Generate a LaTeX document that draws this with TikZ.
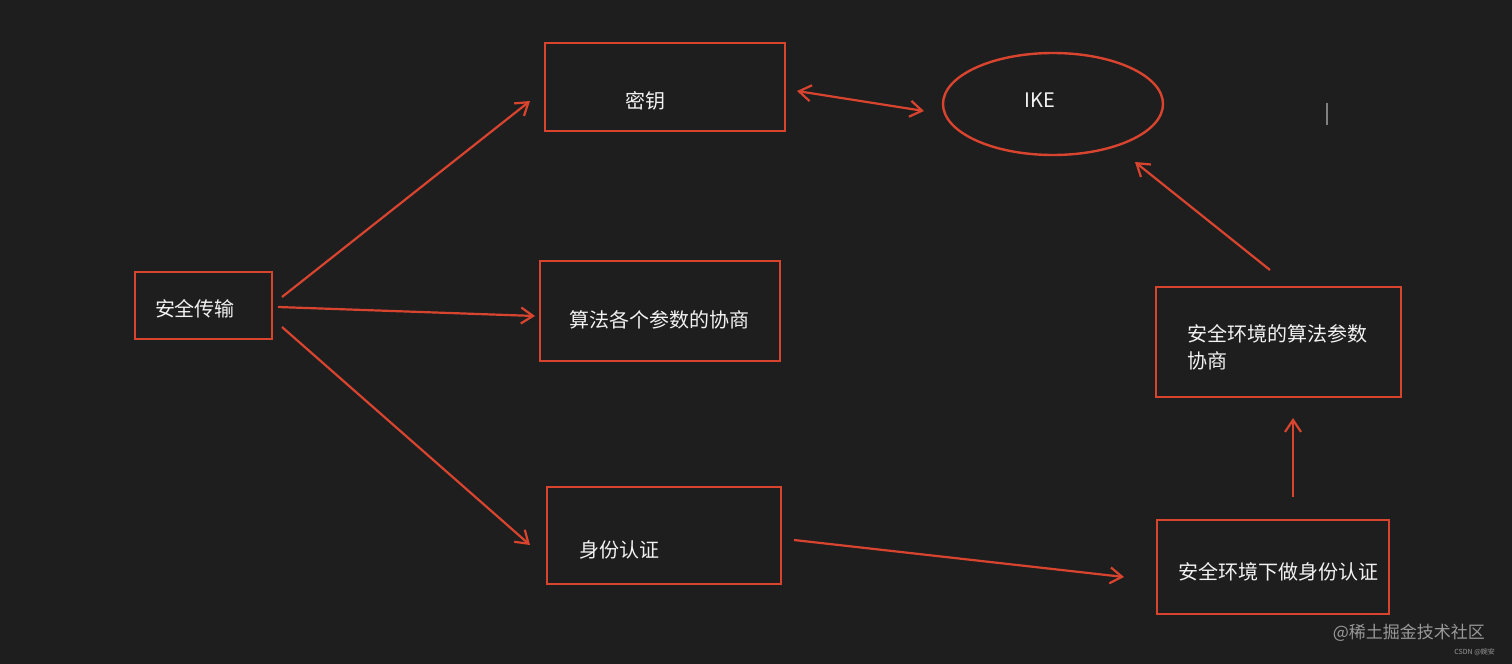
\documentclass[tikz,border=0pt]{standalone}
\usepackage{fontspec}
\setmainfont{Noto Sans CJK SC}
\usetikzlibrary{arrows.meta,shapes.geometric}
\definecolor{bg}{HTML}{1E1E1E}
\definecolor{rd}{HTML}{D9442F}
\definecolor{tx}{HTML}{F2F2F2}
\begin{document}
\begin{tikzpicture}[x=0.5pt,y=-0.5pt,
  box/.style={draw=rd,line width=1.2pt,inner sep=0pt},
  lbl/.style={text=tx,font=\fontsize{10}{13.5}\selectfont},
  arr/.style={draw=rd,line width=1.1pt,-{Straight Barb[length=6pt,width=8pt]}}]
\fill[bg] (0,0) rectangle (1512,664);
\useasboundingbox (0,0) rectangle (1512,664);
\draw[box] (545,43) rectangle (785,131);
\node[lbl] (mi) at (645,101) {密钥};
\draw[box] (1053,104) ellipse [x radius=110, y radius=51];
\node[lbl] (ike) at (1040,100) {IKE};
\draw[box] (135,272) rectangle (272,339);
\node[lbl] (aq) at (195,309) {安全传输};
\draw[box] (540,261) rectangle (780,361);
\node[lbl] (sf) at (659,320) {算法各个参数的协商};
\draw[box] (547,487) rectangle (781,584);
\node[lbl] (sf2) at (619,550) {身份认证};
\draw[box] (1156,287) rectangle (1401,397);
\node[lbl,align=left,anchor=west] (hj) at (1180,347) {安全环境的算法参数\\协商};
\draw[box] (1157,520) rectangle (1389,614);
\node[lbl] (xz) at (1278,572) {安全环境下做身份认证};
\coordinate (a1) at (282,297); \coordinate (b1) at (530,101);
\coordinate (a2) at (278,307); \coordinate (b2) at (535,316);
\coordinate (a3) at (282,327); \coordinate (b3) at (530,545);
\coordinate (a4) at (797,91); \coordinate (b4) at (924,111);
\coordinate (a5) at (794,540); \coordinate (b5) at (1124,577);
\coordinate (a6) at (1293,497); \coordinate (b6) at (1293,418);
\coordinate (a7) at (1270,270); \coordinate (b7) at (1135,162);
\draw[arr] (a1) -- (b1);
\draw[arr] (a2) -- (b2);
\draw[arr] (a3) -- (b3);
\draw[arr,{Straight Barb[length=6pt,width=8pt]}-{Straight Barb[length=6pt,width=8pt]}] (a4) -- (b4);
\draw[arr] (a5) -- (b5);
\draw[arr] (a6) -- (b6);
\draw[arr] (a7) -- (b7);
\draw[gray,line width=0.6pt] (1327,103) -- (1327,125);
\node[text=gray!80,font=\fontsize{8.5}{10}\selectfont,anchor=east] (wm) at (1492,633) {@稀土掘金技术社区};
\node[text=gray!80,font=\fontsize{3.5}{4}\selectfont,anchor=east] (cs) at (1502,652) {CSDN @婉安};
\end{tikzpicture}
\end{document}
